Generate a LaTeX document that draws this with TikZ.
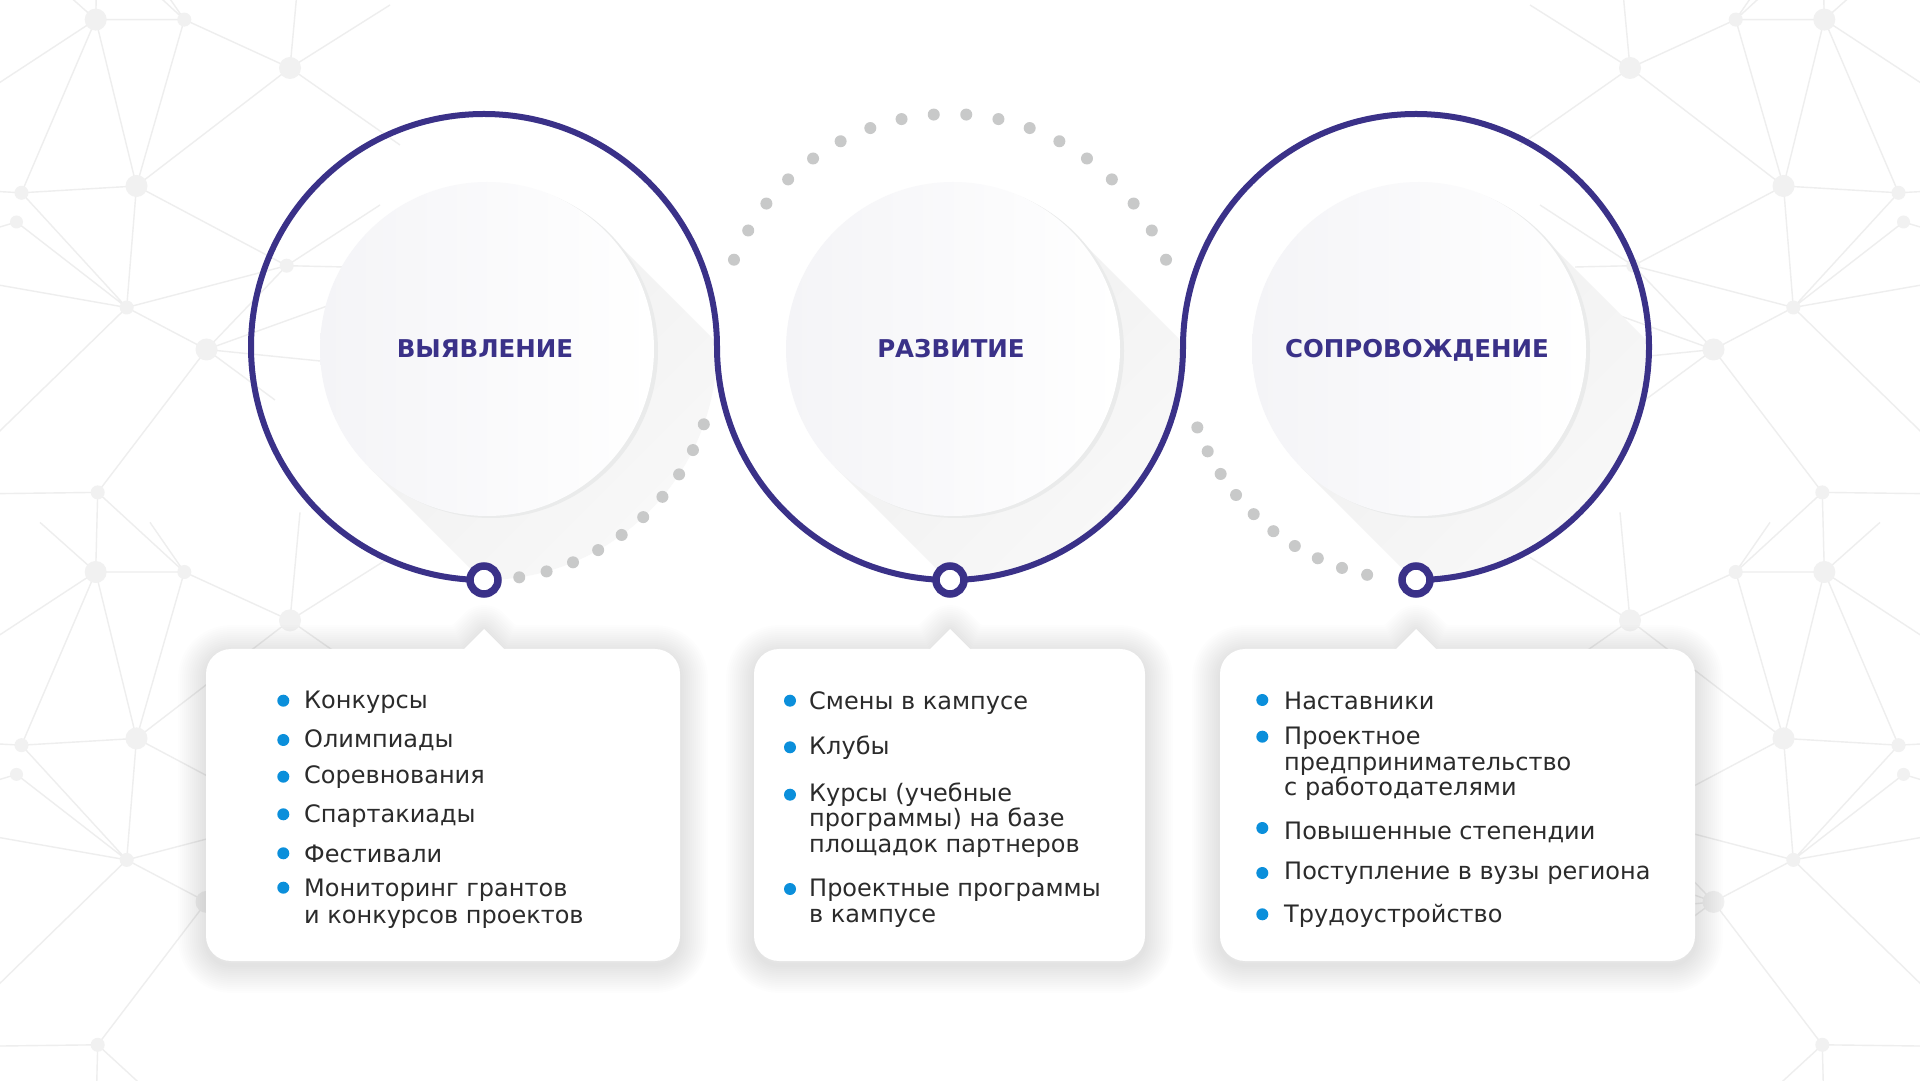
\documentclass[tikz,border=0pt]{standalone}
\usepackage{fontspec}
\setmainfont{DejaVu Sans}
\definecolor{purp}{HTML}{3A3188}
\definecolor{dotgray}{HTML}{C8C9C9}
\definecolor{bul}{HTML}{0B8FDB}
\definecolor{txt}{HTML}{2B2B2B}
\definecolor{netline}{HTML}{EEEEEE}
\definecolor{netnode}{HTML}{F1F1F1}
\definecolor{rim}{HTML}{EAEBEB}
\definecolor{diskl}{HTML}{F4F4F7}
\tikzset{
  netl/.style={draw=netline, line width=1.4pt},
  netn/.style={fill=netnode},
  purpline/.style={draw=purp, line width=6pt},
  ringstyle/.style={draw=purp, line width=7.5pt, fill=white},
  graydot/.style={fill=dotgray},
  boxfill/.style={fill=white},
  boxshade/.style={draw=black, draw opacity=0.0075, line join=round},
  titletext/.style={anchor=base, inner sep=0pt, text=purp, font=\fontsize{24.5}{29}\selectfont\bfseries},
  itemtext/.style={anchor=base west, inner sep=0pt, text=txt, font=\fontsize{24}{26}\selectfont},
  bulletdot/.style={fill=bul}
}
% one period of the background network (screen coordinates, left side)
\newcommand\netunit{%
  \coordinate (nA) at (95.7,19.6);
  \coordinate (nB) at (184.3,19.6);
  \coordinate (nC) at (290,68);
  \coordinate (nD) at (136.5,186);
  \coordinate (nE) at (21.5,192.8);
  \coordinate (nF) at (16.5,222);
  \coordinate (nG) at (126.7,307.5);
  \coordinate (nH) at (206.5,349.5);
  \coordinate (nI) at (286.7,265.7);
  \coordinate (nJ) at (97.7,492.4);
  \coordinate (nK) at (95.7,572);
  \coordinate (nL) at (184.3,572);
  \draw[netl] (nA)--(nB) (nA)--(nD) (nA)--(nE) (nB)--(nD) (nB)--(nC) (nC)--(nD)
    (nD)--(nE) (nD)--(nI) (nD)--(nG) (nE)--(nG) (nF)--(nG) (nG)--(nH) (nG)--(nI)
    (nH)--(nI) (nH)--(nJ) (nJ)--(nK) (nJ)--(nL)
    (nE)--(-30,190) (nF)--(-30,236) (nG)--(-30,280) (nA)--(-30,102) (nJ)--(-30,494)
    (nG)--(-30,460) (nC)--(300,-40) (nC)--(400,145) (nC)--(390,5) (nH)--(330,362)
    (nH)--(330,305) (nH)--(275,400) (nI)--(345,267) (nI)--(380,205) (nB)--(150,-30)
    (nA)--(40,-30);
  \fill[netn] (nA) circle (11) (nC) circle (11) (nD) circle (11) (nH) circle (11)
    (nB) circle (7) (nE) circle (7) (nF) circle (6.5) (nG) circle (7) (nI) circle (7) (nJ) circle (7);
}
% stage: #1 centre x of big circle, #2 title, #3 node name
\newcommand\stage[3]{%
  \begin{scope}
    \clip (#1,733) circle (233);
    \shade[top color=black!6, bottom color=white, shading angle=45]
      ({#1+3+118.1},{731+118.1}) -- ({#1+3+118.1+300},{731+118.1-300})
      -- ({#1+3-118.1+300},{731-118.1-300}) -- ({#1+3-118.1},{731-118.1}) -- cycle;
  \end{scope}
  \fill[rim] ({#1+7},729) circle (167);
  \shade[left color=diskl, right color=white] ({#1+3},731) circle (167);
  \node[titletext] (#3) at ({#1+1},722) {#2};
}
% outline of an info box: #1 left x, #2 right x, #3 pointer x
\newcommand\boxpath[3]{%
  ({#1+25},119) -- ({#2-25},119) arc[start angle=-90,end angle=0,radius=25]
    -- (#2,406) arc[start angle=0,end angle=90,radius=25]
    -- ({#3+20},431) -- (#3,451) -- ({#3-20},431)
    -- ({#1+25},431) arc[start angle=90,end angle=180,radius=25]
    -- (#1,144) arc[start angle=180,end angle=270,radius=25] -- cycle
}
\newcommand\infobox[3]{%
  \begin{scope}[yshift=-4pt]
    \foreach \w in {4,8,...,56} \path[boxshade, line width=\w pt] \boxpath{#1}{#2}{#3};
  \end{scope}
  \path[boxfill] \boxpath{#1}{#2}{#3};
}
\begin{document}
\begin{tikzpicture}[x=1pt,y=1pt]
\fill[white] (0,0) rectangle (1920,1080);
\useasboundingbox (0,0) rectangle (1920,1080);

% background network
\begin{scope}
  \clip (0,0) rectangle (1920,1080);
  \begin{scope}[shift={(0,1080)}, yscale=-1]
    \foreach \k in {-1,0,1} {
      \begin{scope}[shift={(0,{\k*552.4})}] \netunit \end{scope}
      \begin{scope}[shift={(1920,{\k*552.4})}, xscale=-1] \netunit \end{scope}
    }
  \end{scope}
\end{scope}

% discs with titles
\stage{484}{ВЫЯВЛЕНИЕ}{t1}
\stage{950}{РАЗВИТИЕ}{t2}
\stage{1416}{СОПРОВОЖДЕНИЕ}{t3}

% dotted arcs
\foreach \a in {0,...,9} \fill[graydot] (484,733) ++({-81.3+6.88*\a}:233) circle (6);
\foreach \a in {0,...,17} \fill[graydot] (950,733) ++({22+8*\a}:233) circle (6);
\foreach \a in {0,...,9} \fill[graydot] (1416,733) ++({200.2+6.41*\a}:233) circle (6);

% purple line
\path[purpline] (484,500) arc[start angle=-90, end angle=-360, radius=233]
  arc[start angle=180, end angle=360, radius=233]
  arc[start angle=180, end angle=-90, radius=233];
\draw[ringstyle] (484,500) circle (14);
\draw[ringstyle] (950,500) circle (14);
\draw[ringstyle] (1416,500) circle (14);

% boxes
\infobox{206}{680}{484}
\infobox{754}{1145}{950}
\infobox{1220}{1695}{1416}

% box 1
\foreach \y in {379.3,340,303.3,265.7,226.7,192.3} \fill[bulletdot] (283.3,\y) circle (6);
\node[itemtext] (a1) at (304,371.7) {Конкурсы};
\node[itemtext] (a2) at (304,332.3) {Олимпиады};
\node[itemtext] (a3) at (304,296) {Соревнования};
\node[itemtext] (a4) at (304,257.3) {Спартакиады};
\node[itemtext] (a5) at (304,217.3) {Фестивали};
\node[itemtext] (a6) at (304,183.3) {Мониторинг грантов};
\node[itemtext] (a7) at (304,156.7) {и конкурсов проектов};

% box 2
\foreach \y in {379.3,332.7,285.3,191} \fill[bulletdot] (790,\y) circle (6);
\node[itemtext] (b1) at (809,370.7) {Смены в кампусе};
\node[itemtext] (b2) at (809,325) {Клубы};
\node[itemtext] (b3) at (809,279) {Курсы (учебные};
\node[itemtext] (b4) at (809,253.3) {программы) на базе};
\node[itemtext] (b5) at (809,227.7) {площадок партнеров};
\node[itemtext] (b6) at (809,183.3) {Проектные программы};
\node[itemtext] (b7) at (809,157.3) {в кампусе};

% box 3
\foreach \y in {380,343.3,252,207,165.7} \fill[bulletdot] (1262.3,\y) circle (6);
\node[itemtext] (c1) at (1284,370.7) {Наставники};
\node[itemtext] (c2) at (1284,335) {Проектное};
\node[itemtext] (c3) at (1284,309.3) {предпринимательство};
\node[itemtext] (c4) at (1284,284.3) {с работодателями};
\node[itemtext] (c5) at (1284,241) {Повышенные степендии};
\node[itemtext] (c6) at (1284,200.7) {Поступление в вузы региона};
\node[itemtext] (c7) at (1284,157.3) {Трудоустройство};
\end{tikzpicture}
\end{document}
